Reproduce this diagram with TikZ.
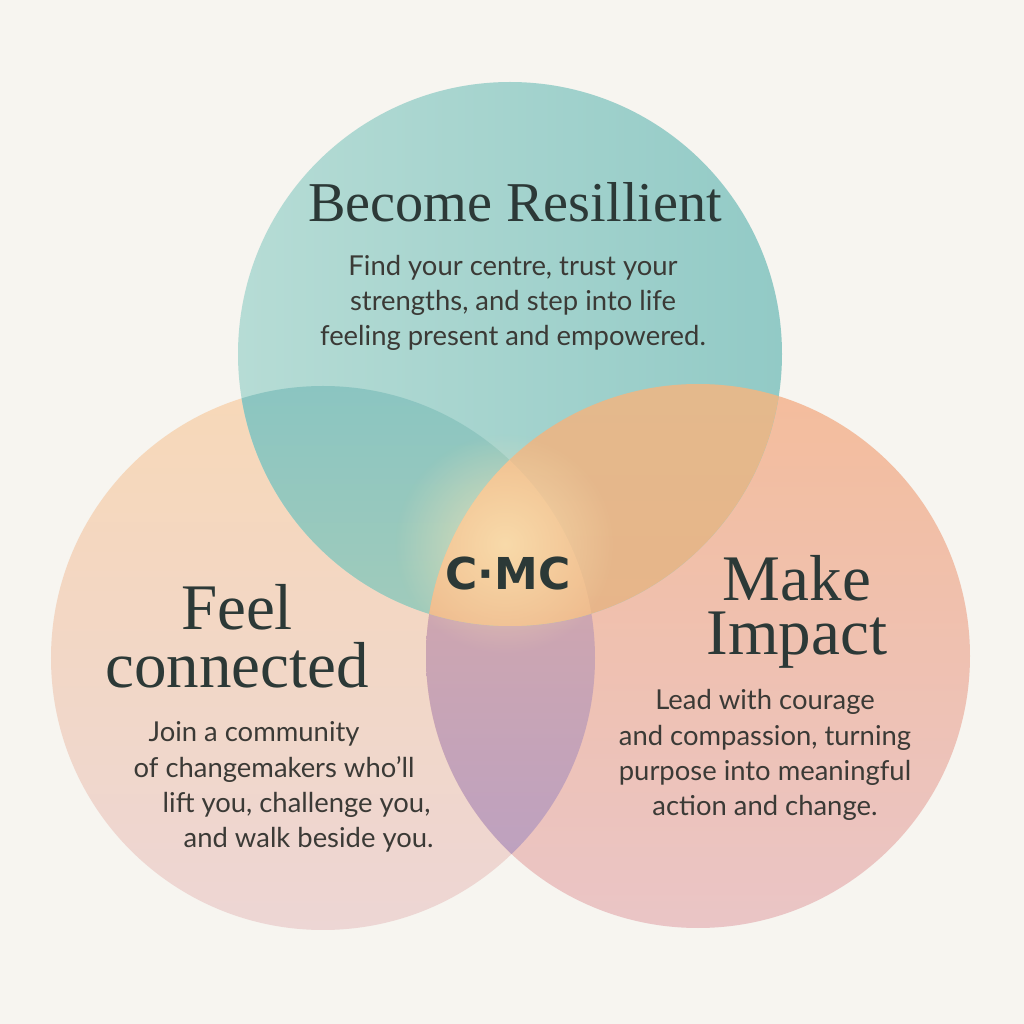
\documentclass[tikz,border=0pt]{standalone}
\usepackage{fontspec}
\setmainfont{Liberation Serif}
\setsansfont{Lato}
\newfontfamily\badgefont{DejaVu Sans}
\usepackage{tikz}
\usetikzlibrary{fadings}

\definecolor{paper}{HTML}{F7F5F0}
\definecolor{tealL}{HTML}{B6DCD5}
\definecolor{tealR}{HTML}{92CAC6}
\definecolor{tealdeep}{HTML}{8BC5C1}
\definecolor{tealsage}{HTML}{BDD3B3}
\definecolor{peachT}{HTML}{F7D8B8}
\definecolor{peachB}{HTML}{EDD6D4}
\definecolor{salmonT}{HTML}{F4BD9C}
\definecolor{salmonB}{HTML}{EAC5C6}
\definecolor{tanT}{HTML}{E4B98C}
\definecolor{tanB}{HTML}{EBB086}
\definecolor{mauveT}{HTML}{DCAAA2}
\definecolor{mauveB}{HTML}{B9A0C4}
\definecolor{coreT}{HTML}{F1BE8C}
\definecolor{coreB}{HTML}{EDB890}
\definecolor{glow}{HTML}{FCE7B6}
\definecolor{ink}{HTML}{2C3937}
\definecolor{inkbody}{HTML}{3B3A36}

\tikzfading[name=glowfade, inner color=transparent!0, outer color=transparent!100]

\begin{document}
\begin{tikzpicture}[
    headline/.style={text=ink, align=center, inner sep=0pt},
    blurb/.style={text=inkbody, inner sep=0pt,
      font=\sffamily\fontsize{7.8}{10}\selectfont}
  ]
  \fill[paper] (0,0) rectangle (10.24,10.24);
  \useasboundingbox (0,0) rectangle (10.24,10.24);
  \coordinate (resil) at (5.10,6.70);
  \coordinate (conn) at (3.23,3.66);
  \coordinate (impact) at (6.98,3.68);
  \coordinate (core) at (5.05,4.80);
  % the two lower circles
  \shade[top color=peachT, middle color=peachT, bottom color=peachB] (conn) circle (2.72);
  \shade[top color=salmonT, middle color=salmonT, bottom color=salmonB] (impact) circle (2.72);
  \begin{scope}
    \clip (conn) circle (2.72);
    \shade[top color=mauveT, bottom color=mauveB] (impact) circle (2.72);
  \end{scope}
  % top circle and its overlaps
  \shade[left color=tealL, right color=tealR] (resil) circle (2.72);
  \begin{scope}
    \clip (resil) circle (2.72);
    \shade[top color=tealdeep, bottom color=tealsage] (conn) circle (2.72);
    \shade[top color=tanT, bottom color=tanB] (impact) circle (2.72);
    \clip (conn) circle (2.72);
    \shade[top color=coreT, bottom color=coreB] (impact) circle (2.72);
  \end{scope}
  \fill[glow, path fading=glowfade, fill opacity=0.7] (core) circle (1.1);
  % labels
  \node[headline, font=\fontsize{16}{18}\selectfont] (resiltitle) at (5.15,8.22) {Become Resillient};
  \node[blurb, align=center] (resiltext) at (5.13,7.21)
    {Find your centre, trust your\\strengths, and step into life\\feeling present and empowered.};
  \node[headline, font=\fontsize{18.5}{16.5}\selectfont] (conntitle) at (2.37,3.88) {Feel\\connected};
  \node[blurb, align=left, anchor=west] (conntext) at (1.33,2.37)
    {\hspace*{0.15cm}Join a community\\of changemakers who'll\\\hspace*{0.29cm}lift you, challenge you,\\\hspace*{0.50cm}and walk beside you.};
  \node[headline, font=\fontsize{18.5}{15.5}\selectfont] (impacttitle) at (7.97,4.12) {Make\\Impact};
  \node[blurb, align=center] (impacttext) at (7.65,2.69)
    {Lead with courage\\and compassion, turning\\purpose into meaningful\\action and change.};
  \node[text=ink, font=\badgefont\bfseries\fontsize{12.5}{13}\selectfont] (cmc) at (5.08,4.50) {C·MC};
\end{tikzpicture}
\end{document}
